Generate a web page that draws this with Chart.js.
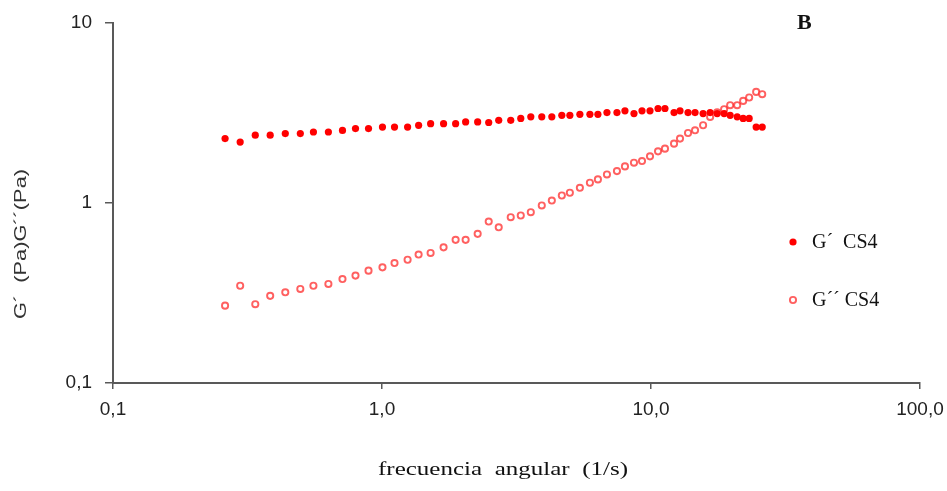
<!DOCTYPE html>
<html>
<head>
<meta charset="utf-8">
<script src="https://cdn.jsdelivr.net/npm/chart.js@4/dist/chart.umd.min.js"></script>
<style>
  html, body { margin: 0; padding: 0; background: #fff; }
  #wrap { width: 947px; height: 491px; }
</style>
</head>
<body>
<div id="wrap"><canvas id="c" width="947" height="491"></canvas></div>
<script>
// Angular frequency (1/s)
const freq = [0.261, 0.297, 0.338, 0.384, 0.437, 0.497, 0.556, 0.632, 0.713, 0.797,
  0.891, 1.004, 1.113, 1.245, 1.368, 1.516, 1.694, 1.878, 2.046, 2.268,
  2.493, 2.716, 3.010, 3.280, 3.574, 3.926, 4.279, 4.661, 4.993, 5.440,
  5.928, 6.348, 6.859, 7.472, 8.002, 8.644, 9.259, 9.915, 10.62, 11.27,
  12.18, 12.82, 13.73, 14.58, 15.62, 16.59, 17.62, 18.70, 19.69, 20.91,
  22.01, 23.17, 24.60, 25.91];

// Storage modulus G' (Pa)
const gPrime = [2.28, 2.18, 2.38, 2.38, 2.43, 2.43, 2.48, 2.48, 2.53, 2.59,
  2.59, 2.64, 2.64, 2.64, 2.70, 2.76, 2.76, 2.76, 2.82, 2.82,
  2.80, 2.88, 2.88, 2.95, 3.01, 3.01, 3.01, 3.07, 3.07, 3.11,
  3.11, 3.11, 3.18, 3.18, 3.25, 3.14, 3.25, 3.25, 3.35, 3.35,
  3.18, 3.25, 3.18, 3.18, 3.14, 3.18, 3.14, 3.14, 3.07, 3.01,
  2.95, 2.95, 2.64, 2.64];

// Loss modulus G'' (Pa)
const gDoublePrime = [0.269, 0.347, 0.274, 0.305, 0.319, 0.333, 0.347, 0.355, 0.378, 0.395,
  0.421, 0.439, 0.464, 0.484, 0.517, 0.528, 0.567, 0.624, 0.624, 0.674,
  0.789, 0.733, 0.834, 0.852, 0.889, 0.969, 1.032, 1.101, 1.140, 1.215,
  1.296, 1.352, 1.441, 1.504, 1.597, 1.675, 1.710, 1.816, 1.936, 2.004,
  2.137, 2.279, 2.448, 2.534, 2.703, 3.006, 3.193, 3.318, 3.493, 3.493,
  3.691, 3.856, 4.143, 4.023];

const seriesNames = ['G\u00b4  CS4', 'G\u00b4\u00b4 CS4'];
const xTickValues = [0.1, 1, 10, 100];
const xTickLabels = ['0,1', '1,0', '10,0', '100,0'];
const yTickValues = [0.1, 1, 10];
const yTickLabels = ['0,1', '1', '10'];
const xTitle = 'frecuencia  angular  (1/s)';
const yTitle = 'G\u00b4  (Pa)G\u00b4\u00b4(Pa)';
const panelLabel = 'B';

const SANS = "'Liberation Sans', Arial, sans-serif";
const SERIF = "'Liberation Serif', 'Times New Roman', serif";
const AXIS = '#595959';

function toPoints(xs, ys) {
  return xs.map((x, i) => ({ x: x, y: ys[i] }));
}

// Titles, panel letter and legend drawn on top of the chart
const annotations = {
  id: 'annotations',
  afterDraw(chart) {
    const ctx = chart.ctx;
    ctx.save();
    ctx.fillStyle = '#111';
    ctx.textBaseline = 'middle';

    // y-axis title (rotated)
    ctx.save();
    ctx.font = '17px ' + SANS;
    ctx.translate(21, 244);
    ctx.rotate(-Math.PI / 2);
    const wy = ctx.measureText(yTitle).width;
    ctx.scale(150 / wy, 1);
    ctx.textAlign = 'center';
    ctx.fillStyle = '#333';
    ctx.fillText(yTitle, 0, 0);
    ctx.restore();

    // x-axis title
    ctx.save();
    ctx.font = '19px ' + SERIF;
    ctx.translate(503, 470);
    const wx = ctx.measureText(xTitle).width;
    ctx.scale(250 / wx, 1);
    ctx.textAlign = 'center';
    ctx.fillText(xTitle, 0, 0);
    ctx.restore();

    // panel letter
    ctx.font = 'bold 22px ' + SERIF;
    ctx.textAlign = 'left';
    ctx.fillText(panelLabel, 797, 23);

    // legend
    const rows = [242, 300];
    chart.data.datasets.forEach((ds, i) => {
      const y = rows[i];
      ctx.beginPath();
      ctx.arc(793, y, ds.pointRadius, 0, Math.PI * 2);
      ctx.fillStyle = ds.pointBackgroundColor;
      ctx.fill();
      if (ds.pointBorderWidth > 0) {
        ctx.lineWidth = ds.pointBorderWidth;
        ctx.strokeStyle = ds.pointBorderColor;
        ctx.stroke();
      }
      ctx.fillStyle = '#111';
      ctx.font = '20px ' + SERIF;
      ctx.textAlign = 'left';
      ctx.fillText(seriesNames[i], 812, y + 1);
    });
    ctx.restore();
  }
};

function axisConfig(values, labels, extra) {
  return Object.assign({
    type: 'logarithmic',
    min: values[0],
    max: values[values.length - 1],
    afterBuildTicks: (scale) => {
      scale.ticks = values.map(v => ({ value: v, major: true }));
    },
    ticks: {
      autoSkip: false,
      maxRotation: 0,
      color: '#222',
      font: { family: SANS, size: 19 },
      callback: (value, index) => labels[index]
    },
    grid: {
      display: true,
      drawOnChartArea: false,
      drawTicks: true,
      color: AXIS,
      lineWidth: 1.5
    },
    border: { display: true, color: AXIS, width: 2 },
    title: { display: false }
  }, extra);
}

const xAxis = axisConfig(xTickValues, xTickLabels, {
  position: 'bottom',
  afterFit: (s) => {
    s.height = 108;
    s.paddingLeft = 0;
    s.paddingRight = 0;
  }
});
xAxis.grid.tickLength = 6;
xAxis.ticks.padding = 9;

const yAxis = axisConfig(yTickValues, yTickLabels, {
  position: 'left',
  afterFit: (s) => {
    s.width = 113;
    s.paddingTop = 0;
    s.paddingBottom = 0;
  }
});
yAxis.grid.tickLength = 8;
yAxis.ticks.padding = 13;

new Chart(document.getElementById('c'), {
  type: 'scatter',
  data: {
    datasets: [
      {
        label: seriesNames[0],
        data: toPoints(freq, gPrime),
        pointRadius: 3.6,
        pointBackgroundColor: '#ff0000',
        pointBorderColor: '#ff0000',
        pointBorderWidth: 0,
        showLine: false
      },
      {
        label: seriesNames[1],
        data: toPoints(freq, gDoublePrime),
        pointRadius: 3.1,
        pointBackgroundColor: '#ffffff',
        pointBorderColor: 'rgba(255,35,35,0.72)',
        pointBorderWidth: 1.9,
        showLine: false
      }
    ]
  },
  options: {
    responsive: false,
    animation: false,
    devicePixelRatio: 1,
    layout: { padding: { left: 0, right: 27, top: 23, bottom: 0 } },
    plugins: {
      legend: { display: false },
      tooltip: { enabled: false }
    },
    scales: { x: xAxis, y: yAxis }
  },
  plugins: [annotations]
});
</script>
</body>
</html>
